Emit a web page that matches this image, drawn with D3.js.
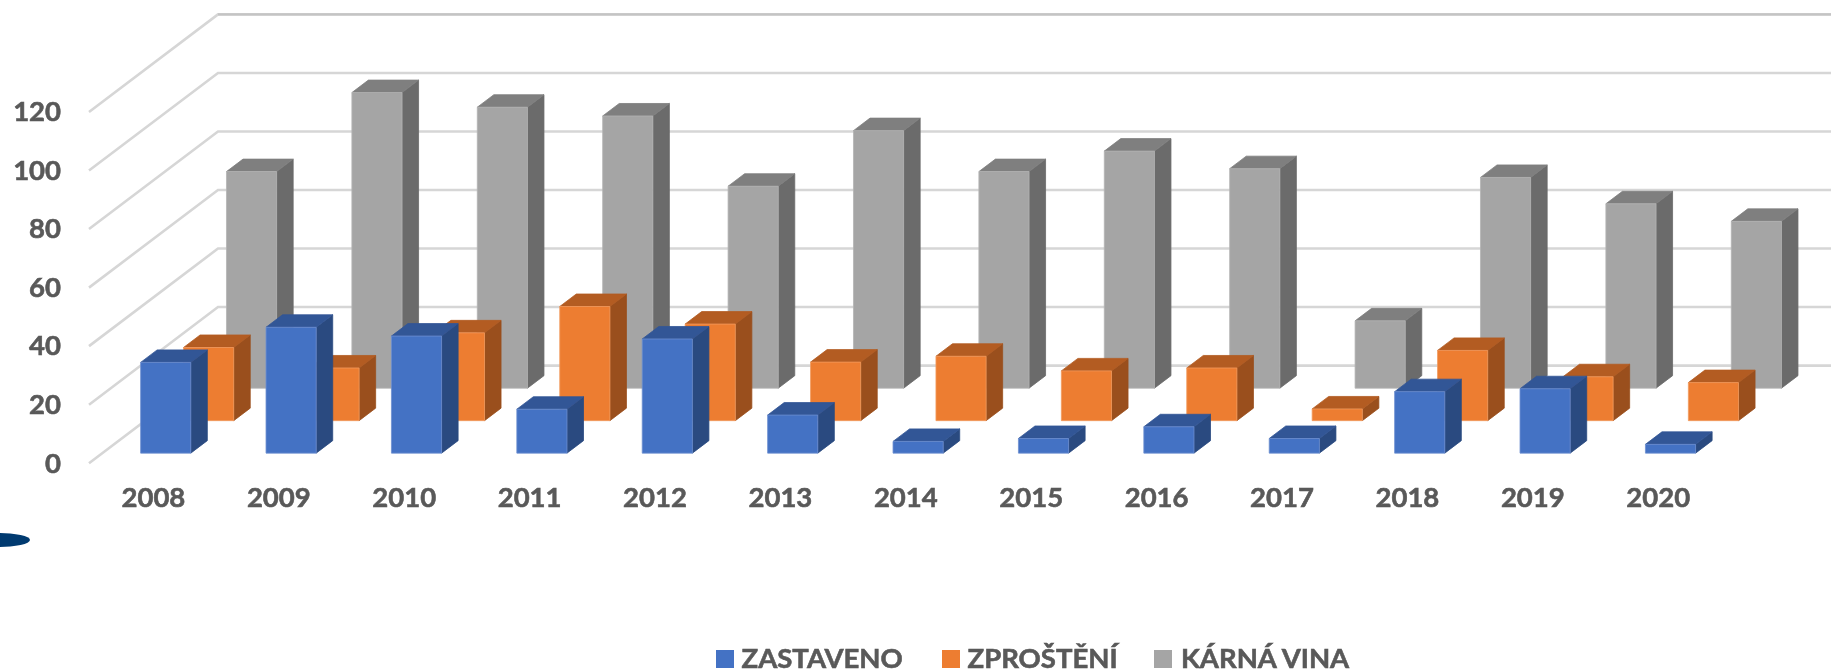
<!DOCTYPE html>
<html>
<head>
<meta charset="utf-8">
<script src="https://cdnjs.cloudflare.com/ajax/libs/d3/7.8.5/d3.min.js"></script>
<style>
    html, body { margin: 0; padding: 0; background: #fff; overflow: hidden; }
    svg { display: block; filter: blur(0.5px); }
    text { font-family: Lato, sans-serif; font-weight: 700; fill: #595959; stroke: #595959; stroke-width: 0.6px; }
</style>
</head>
<body>
<div id="chart"></div>
<script>
const years = ['2008', '2009', '2010', '2011', '2012', '2013', '2014', '2015', '2016', '2017', '2018', '2019', '2020'];
const seriesNames = ['ZASTAVENO', 'ZPROŠTĚNÍ', 'KÁRNÁ VINA'];
const zastaveno = [31, 43, 40, 15, 39, 13, 4, 5, 9, 5, 21, 22, 3];
const zprosteni = [25, 18, 30, 39, 33, 20, 22, 17, 18, 4, 24, 15, 13];
const karnaVina = [74, 101, 96, 93, 69, 88, 74, 81, 75, 23, 72, 63, 57];
const yTicks = [0, 20, 40, 60, 80, 100, 120];

const seriesValues = [zastaveno, zprosteni, karnaVina];
const faceColors = [
    { front: '#4472c4', side: '#2a4a80', top: '#325696', edge: '#6d8fd0' },
    { front: '#ed7d31', side: '#9a4f1d', top: '#b35c22', edge: '#f29a5e' },
    { front: '#a5a5a5', side: '#6b6b6b', top: '#7f7f7f', edge: '#b4b4b4' },
];

const width = 1831;
const height = 669;

const svg = d3.select('#chart').append('svg').attr('width', width).attr('height', height);

// front plane scales, depth is a plain oblique offset
const x = d3.scaleBand().domain(years).range([89.7, 1719.9]).paddingInner(0.6).paddingOuter(0.3);
const y = d3.scaleLinear().domain([0, 120]).range([463.2, 112]);
const z = d3.scaleBand().domain(seriesNames).range([0, 1]).paddingInner(0.615).paddingOuter(0.31);
const zToX = d3.scaleLinear().domain([0, 1]).range([0, 129]);
const zToY = d3.scaleLinear().domain([0, 1]).range([0, -97.6]);

const project = (px, v, depth) => [px + zToX(depth), y(v) + zToY(depth)];

// Gridlines on the side and back walls
const wallLeft = 89;
const grid = svg.append('g');
grid.selectAll('path')
    .data(yTicks)
    .join('path')
    .attr('d', (d) => d3.line()([project(wallLeft, d, 0), project(wallLeft, d, 1), [width, y(d) + zToY(1)]]))
    .attr('fill', 'none')
    .attr('stroke', '#d6d6d6')
    .attr('stroke-width', 2.6);

// the top line of the back wall reads a bit darker
grid.append('path')
    .attr('d', d3.line()([project(wallLeft, 120, 1), [width, y(120) + zToY(1)]]))
    .attr('stroke', '#c4c4c4')
    .attr('stroke-width', 2.2);

// Back series first so nearer bars cover it
[2, 1, 0].forEach((s) => {
    const name = seriesNames[s];
    const colors = faceColors[s];
    const z0 = z(name);
    const z1 = z0 + z.bandwidth();
    const g = svg.append('g').attr('class', 'series');

    years.forEach((year, i) => {
        const v = seriesValues[s][i];
        const x0 = x(year);
        const x1 = x0 + x.bandwidth();
        const bar = g.append('g');

        const face = (pts, fill, stroke) =>
            bar.append('path')
                .attr('d', d3.line()(pts) + 'Z')
                .attr('fill', fill)
                .attr('stroke', stroke)
                .attr('stroke-width', 0.8);

        face([project(x1, 0, z0), project(x1, 0, z1), project(x1, v, z1), project(x1, v, z0)], colors.side, colors.side);
        face([project(x0, v, z0), project(x1, v, z0), project(x1, v, z1), project(x0, v, z1)], colors.top, colors.top);
        face([project(x0, 0, z0), project(x1, 0, z0), project(x1, v, z0), project(x0, v, z0)], colors.front, colors.edge);
    });
});

// Axes
const yAxis = d3.axisLeft(y).tickValues(yTicks).tickSize(0).tickPadding(0);
const gy = svg.append('g').attr('transform', 'translate(61,0)').call(yAxis);
gy.select('.domain').remove();
gy.selectAll('text').style('font-size', '27.5px').style('font-family', 'Lato, sans-serif');

const xAxis = d3.axisBottom(x).tickSize(0).tickPadding(0);
const gx = svg.append('g').attr('transform', 'translate(1,487)').call(xAxis);
gx.select('.domain').remove();
gx.selectAll('text').style('font-size', '27.5px').style('font-family', 'Lato, sans-serif');

// Stray logo edge at the left of the picture
svg.append('ellipse')
    .attr('cx', -2)
    .attr('cy', 540)
    .attr('rx', 32)
    .attr('ry', 7)
    .attr('fill', '#003a70');

// Legend sits right on the bottom edge like the source
const legendSwatch = [716, 942, 1154];
const legendText = [741.5, 967.5, 1181];
const legend = svg.append('g');
seriesNames.forEach((name, i) => {
    legend.append('rect')
        .attr('x', legendSwatch[i])
        .attr('y', 650)
        .attr('width', 18)
        .attr('height', 18)
        .attr('fill', faceColors[i].front);
    legend.append('text')
        .attr('x', legendText[i])
        .attr('y', 668)
        .style('font-size', '27.5px')
        .text(name);
});
</script>
</body>
</html>
